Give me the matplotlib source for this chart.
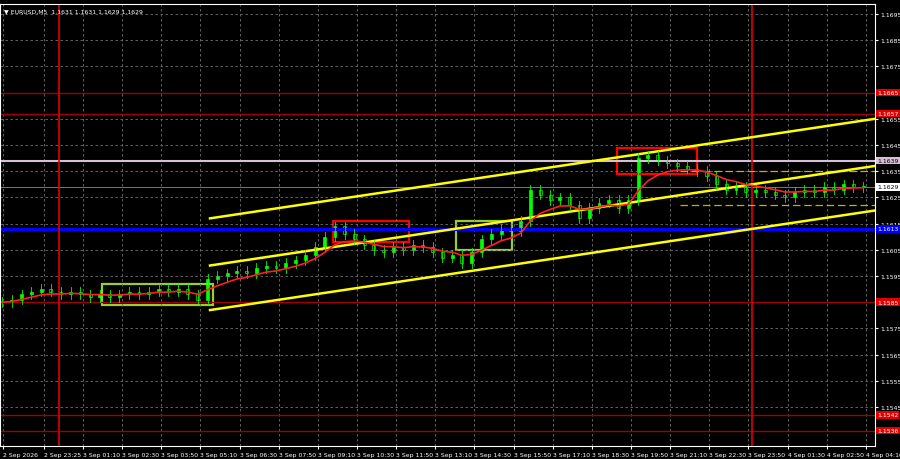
import numpy as np
import matplotlib
matplotlib.use("Agg")
import matplotlib.pyplot as plt
from matplotlib.patches import Rectangle

# closes at ~20 min resolution (price)
closes = [1.1585, 1.1586, 1.1588, 1.1589, 1.1590, 1.1589, 1.1588, 1.1589, 1.1588, 1.1587,
          1.1588, 1.1587, 1.1588, 1.1589, 1.1588, 1.1589, 1.1590, 1.1589, 1.1590, 1.1588,
          1.1586, 1.1594, 1.1595, 1.1596, 1.1597, 1.1596, 1.1598, 1.1599, 1.1598, 1.1600,
          1.1601, 1.1603, 1.1606, 1.1610, 1.1614, 1.1611, 1.1609, 1.1607, 1.1605, 1.1604,
          1.1606, 1.1605, 1.1607, 1.1606, 1.1604, 1.1602, 1.1603, 1.1600, 1.1604, 1.1609,
          1.1611, 1.1613, 1.1612, 1.1616, 1.1628, 1.1626, 1.1624, 1.1625, 1.1622, 1.1617,
          1.1621, 1.1623, 1.1624, 1.1621, 1.1624, 1.1640, 1.1641, 1.1639, 1.1638, 1.1637,
          1.1636, 1.1635, 1.1633, 1.1630, 1.1628, 1.1629, 1.1627, 1.1628, 1.1627, 1.1626,
          1.1625, 1.1627, 1.1628, 1.1627, 1.1629, 1.1628, 1.1630, 1.1629, 1.1629]

price_ticks = [1.1695, 1.1685, 1.1675, 1.1665, 1.1655, 1.1645, 1.1635, 1.1625, 1.1615,
               1.1605, 1.1595, 1.1585, 1.1575, 1.1565, 1.1555, 1.1545]
time_labels = ["2 Sep 2026", "2 Sep 23:25", "3 Sep 01:10", "3 Sep 02:30", "3 Sep 03:50",
               "3 Sep 05:10", "3 Sep 06:30", "3 Sep 07:50", "3 Sep 09:10", "3 Sep 10:30",
               "3 Sep 11:50", "3 Sep 13:10", "3 Sep 14:30", "3 Sep 15:50", "3 Sep 17:10",
               "3 Sep 18:30", "3 Sep 19:50", "3 Sep 21:10", "3 Sep 22:30", "3 Sep 23:50",
               "4 Sep 01:30", "4 Sep 02:50", "4 Sep 04:10"]
time_pos = [3, 44, 83, 122, 161, 200, 240, 279, 318, 357,
            396, 435, 474, 514, 553, 592, 631, 670, 709, 748, 788, 827, 866]

red_levels = [1.1665, 1.1657, 1.1585, 1.1542, 1.1536]
pink_level = 1.1639
blue_level = 1.1613
last_price = 1.1629

# channel lines: (x0, p0, x1, p1)
channel = [(210, 1.1617, 875, 1.1655), (210, 1.1599, 875, 1.1637), (210, 1.1582, 875, 1.1620)]
boxes = [(102, 1.1584, 213, 1.1592, "#9acd32"), (333, 1.1608, 409, 1.1616, "#ff0000"),
         (456, 1.1605, 512, 1.1616, "#9acd32"), (617, 1.1634, 697, 1.1644, "#ff0000")]
vlines = [59, 752]

W = 875
FS = 4.4
fig = plt.figure(figsize=(9, 4.6), dpi=100, facecolor="black")
ax = fig.add_axes([0.0, 13 / 460, W / 900, 442 / 460], facecolor="black")
ymin, ymax = 1.1695 - (447 - 15) / 26200, 1.1695 + 10 / 26200
ax.set_xlim(0, W)
ax.set_ylim(ymin, ymax)

for p in price_ticks:
    ax.axhline(p, color="#6e6e6e", lw=0.6, ls=(0, (3, 3)))
for t in time_pos:
    ax.axvline(t, color="#6e6e6e", lw=0.6, ls=(0, (3, 3)))

for p in red_levels:
    ax.axhline(p, color="#a00000", lw=1)
ax.axhline(pink_level, color="#d8bfd8", lw=1.5)
ax.axhline(blue_level, color="#0000ff", lw=2.2)
ax.axhline(last_price, color="#8a8a8a", lw=0.6)
for x in vlines:
    ax.axvline(x, color="#e00000", lw=1.2)
ax.plot([680, W], [1.1635, 1.1635], color="#b8b800", lw=0.9, ls=(0, (6, 3)))
ax.plot([680, W], [1.1622, 1.1622], color="#b8b800", lw=0.9, ls=(0, (6, 3)))

for x0, p0, x1, p1 in channel:
    ax.plot([x0, x1], [p0, p1], color="#ffff00", lw=1.8)

n = len(closes)
step = (W - 4) / n
xs = 2 + np.arange(n) * step
opens = [closes[0]] + closes[:-1]
for x, o, c in zip(xs, opens, closes):
    hi, lo = max(o, c) + 0.00018, min(o, c) - 0.00018
    ax.plot([x, x], [lo, hi], color="#00ff00", lw=0.6)
    ax.add_patch(Rectangle((x - step * 0.15, min(o, c)), step * 0.3, max(abs(c - o), 0.00003),
                           facecolor="black" if c < o else "#00ff00", edgecolor="#00ff00", lw=0.5))

ema = []
a = 2 / (6 + 1)
for c in closes:
    ema.append(c if not ema else ema[-1] + a * (c - ema[-1]))
ax.plot(xs, ema, color="#ff2020", lw=1.2)

for x0, p0, x1, p1, col in boxes:
    ax.add_patch(Rectangle((x0, p0), x1 - x0, p1 - p0, fill=False, edgecolor=col, lw=1.6))

for s in ax.spines.values():
    s.set_color("white")
ax.yaxis.tick_right()
ax.set_yticks(price_ticks)
ax.set_yticklabels([f"{p:.4f}" for p in price_ticks], fontsize=FS, color="white")
ax.set_xticks(time_pos)
ax.set_xticklabels(time_labels, fontsize=FS, color="white", ha="left")
ax.tick_params(colors="white", length=2, pad=2)

def tag(p, fc, tc="white"):
    ax.text(W + 2, p, f"{p:.4f}", fontsize=FS, color=tc, va="center", ha="left",
            bbox=dict(boxstyle="square,pad=0.2", fc=fc, ec="none"), clip_on=False)

for p in red_levels:
    tag(p, "#e00000")
tag(pink_level, "#d8bfd8", "black")
tag(blue_level, "#0000ff")
tag(last_price, "white", "black")

ax.text(4, ymax - 4 / 26200, "\u25bc EURUSD,M5  1.1631 1.1631 1.1629 1.1629", fontsize=FS,
        color="white", va="top")

fig.savefig("out.png", dpi=100, facecolor="black")
